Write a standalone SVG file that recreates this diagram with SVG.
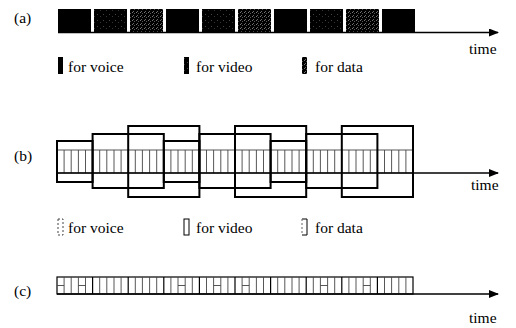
<svg xmlns="http://www.w3.org/2000/svg" width="516" height="328" viewBox="0 0 516 328">
<style>
text{font-family:"Liberation Serif","Times New Roman",serif;font-size:15.5px;fill:#000}
.ax{stroke:#000;stroke-width:1.3;fill:none}
.fr{fill:none;stroke:#000;stroke-width:2}
.sl{stroke:#444;stroke-width:0.9;fill:none}
.gr{fill:none;stroke:#000;stroke-width:1.2}
</style>
<defs>
<pattern id="pv" width="6" height="6" patternUnits="userSpaceOnUse"><rect width="6" height="6" fill="#000"/><rect x="1" y="2" width="1" height="1" fill="#444"/><rect x="4" y="4" width="1" height="1" fill="#333"/></pattern>
<pattern id="pd" width="4" height="4" patternUnits="userSpaceOnUse"><rect width="4" height="4" fill="#000"/><rect x="0" y="0" width="1" height="1" fill="#777"/><rect x="2" y="1" width="1" height="1" fill="#555"/><rect x="1" y="3" width="1" height="1" fill="#666"/></pattern>
<marker id="ar" markerWidth="10" markerHeight="8" refX="9" refY="4" orient="auto" markerUnits="userSpaceOnUse"><path d="M0,0 L10,4 L0,8 Z" fill="#000"/></marker>
</defs>

<g id="panel-a">
<text x="14" y="23">(a)</text>
<g id="a-blocks">
<rect x="58" y="9" width="33" height="23" fill="#000"/>
<rect x="94" y="9" width="33" height="23" fill="url(#pv)"/>
<rect x="130" y="9" width="33" height="23" fill="url(#pd)"/>
<rect x="166" y="9" width="33" height="23" fill="#000"/>
<rect x="202" y="9" width="33" height="23" fill="url(#pv)"/>
<rect x="238" y="9" width="33" height="23" fill="url(#pd)"/>
<rect x="274" y="9" width="33" height="23" fill="#000"/>
<rect x="310" y="9" width="33" height="23" fill="url(#pv)"/>
<rect x="346" y="9" width="33" height="23" fill="url(#pd)"/>
<rect x="382" y="9" width="33" height="23" fill="#000"/>
</g>
<text x="469" y="54">time</text>
<g id="a-legend">
<rect x="58" y="57" width="5" height="17" fill="#000"/>
<text x="68" y="72">for voice</text>
<rect x="184" y="57" width="5" height="17" fill="url(#pv)"/>
<text x="196" y="72">for video</text>
<rect x="302" y="57" width="5" height="17" fill="url(#pd)"/>
<text x="315" y="72">for data</text>
</g>
</g>

<g id="panel-b">
<text x="14" y="161">(b)</text>
<g id="b-band">
<rect x="57" y="150" width="356" height="23" class="sl"/>
<path class="sl" d="M64.1,150V173M71.2,150V173M78.4,150V173M85.5,150V173M92.6,150V173M99.7,150V173M106.8,150V173M114,150V173M121.1,150V173M128.2,150V173M135.3,150V173M142.4,150V173M149.6,150V173M156.7,150V173M163.8,150V173M170.9,150V173M178,150V173M185.2,150V173M192.3,150V173M199.4,150V173M206.5,150V173M213.6,150V173M220.8,150V173M227.9,150V173M235,150V173M242.1,150V173M249.2,150V173M256.4,150V173M263.5,150V173M270.6,150V173M277.7,150V173M284.8,150V173M292,150V173M299.1,150V173M306.2,150V173M313.3,150V173M320.4,150V173M327.6,150V173M334.7,150V173M341.8,150V173M348.9,150V173M356,150V173M363.2,150V173M370.3,150V173M377.4,150V173M384.5,150V173M391.6,150V173M398.8,150V173M405.9,150V173"/>
</g>
<g id="b-frames">
<rect class="fr" x="57" y="141" width="35.6" height="41"/>
<rect class="fr" x="92.6" y="134" width="71.2" height="54"/>
<rect class="fr" x="128.2" y="126" width="71.2" height="71"/>
<rect class="fr" x="163.8" y="141" width="35.6" height="41"/>
<rect class="fr" x="199.4" y="134" width="71.2" height="54"/>
<rect class="fr" x="235" y="126" width="71.2" height="71"/>
<rect class="fr" x="270.6" y="141" width="35.6" height="41"/>
<rect class="fr" x="306.2" y="134" width="71.2" height="54"/>
<rect class="fr" x="341.8" y="126" width="71.2" height="71"/>
</g>
<text x="471" y="190">time</text>
<g id="b-legend">
<rect x="58" y="219" width="5" height="16" fill="none" stroke="#444" stroke-width="1" stroke-dasharray="2,2"/>
<text x="68" y="233">for voice</text>
<rect x="184" y="219" width="5" height="16" fill="none" stroke="#000" stroke-width="1"/>
<text x="196" y="233">for video</text>
<path d="M302,219H307V235H302" fill="none" stroke="#000" stroke-width="1"/>
<path d="M302,219V235" fill="none" stroke="#666" stroke-width="1" stroke-dasharray="2,2"/>
<text x="315" y="233">for data</text>
</g>
</g>

<g id="panel-c">
<text x="14" y="296">(c)</text>
<g id="c-slots">
<rect class="gr" x="57" y="277" width="356" height="17"/>
<path class="gr" d="M92.6,277V294M128.2,277V294M163.8,277V294M199.4,277V294M235,277V294M270.6,277V294M306.2,277V294M341.8,277V294M377.4,277V294"/>
<path class="sl" d="M64.1,277V294M71.2,277V294M78.4,277V294M85.5,277V294M99.7,277V294M106.8,277V294M114,277V294M121.1,277V294M135.3,277V294M142.4,277V294M149.6,277V294M156.7,277V294M170.9,277V294M178,277V294M185.2,277V294M192.3,277V294M206.5,277V294M213.6,277V294M220.8,277V294M227.9,277V294M242.1,277V294M249.2,277V294M256.4,277V294M263.5,277V294M277.7,277V294M284.8,277V294M292,277V294M299.1,277V294M313.3,277V294M320.4,277V294M327.6,277V294M334.7,277V294M348.9,277V294M356,277V294M363.2,277V294M370.3,277V294M384.5,277V294M391.6,277V294M398.8,277V294M405.9,277V294"/>
<path class="sl" d="M57,285.5H64.1M78.4,285.5H85.5M178,285.5H185.2M213.6,285.5H220.8M242.1,285.5H249.2M320.4,285.5H327.6M363.2,285.5H370.3"/>
</g>
<text x="469" y="323">time</text>
</g>

<g id="connectors">
<line class="ax" x1="58" y1="32.5" x2="498" y2="32.5" marker-end="url(#ar)"/>
<line class="ax" x1="57" y1="173" x2="498" y2="173" marker-end="url(#ar)"/>
<line class="ax" x1="57" y1="294" x2="498" y2="294" marker-end="url(#ar)"/>
</g>
</svg>
